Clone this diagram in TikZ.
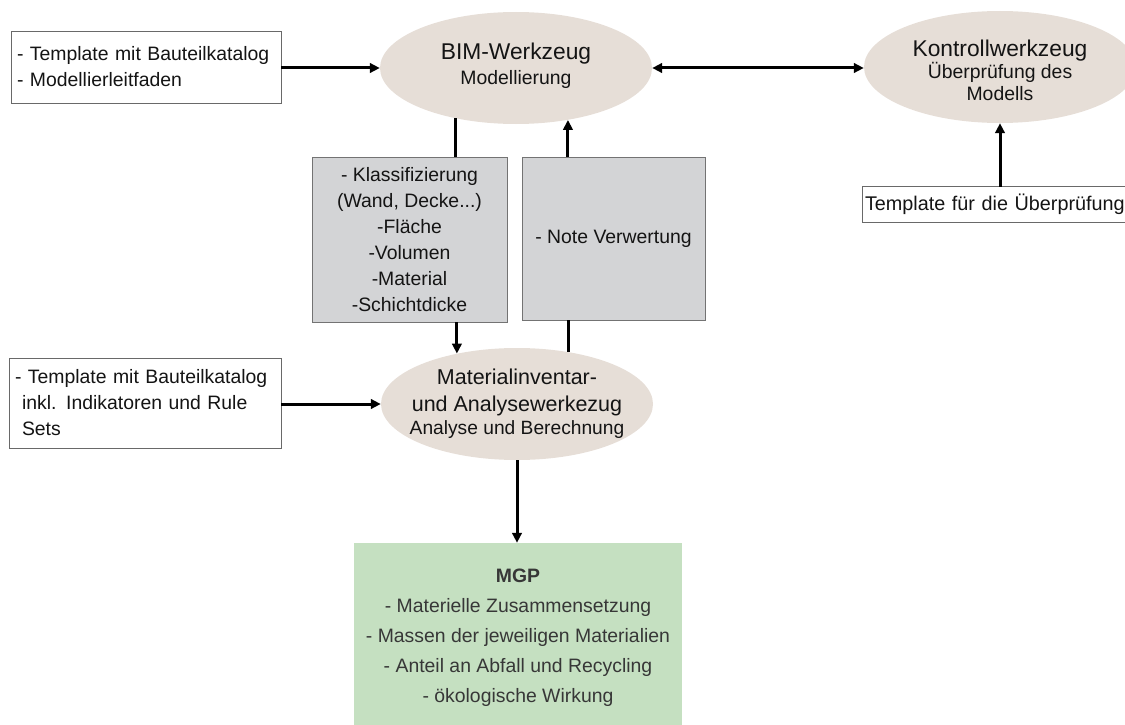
\documentclass[tikz,border=0pt]{standalone}
\usepackage{fontspec}
\setmainfont{Liberation Sans}
\usetikzlibrary{arrows.meta,shapes.geometric}

\definecolor{ellfill}{RGB}{230,222,215}
\definecolor{grayfill}{RGB}{211,212,214}
\definecolor{grayline}{RGB}{115,115,115}
\definecolor{boxline}{RGB}{105,105,105}
\definecolor{mgpfill}{RGB}{197,224,193}
\definecolor{mgptext}{RGB}{55,55,55}
\definecolor{txt}{RGB}{20,20,20}

\newcommand{\bodyfont}{\fontsize{19.4}{26}\selectfont}
\newcommand{\titlefont}{\fontsize{22.8}{26}\selectfont}

\begin{document}
\begin{tikzpicture}[x=1pt,y=-1pt,
  tool/.style={ellipse, fill=ellfill, draw=none, inner sep=0pt,
               minimum width=272pt, minimum height=112pt},
  tooltext/.style={align=center, text=txt, inner sep=0pt, font=\bodyfont},
  inbox/.style={draw=boxline, line width=0.8pt, fill=white, inner ysep=0pt,
               inner xsep=6pt, align=left, text=txt, font=\bodyfont},
  attrbox/.style={draw=grayline, line width=0.8pt, fill=grayfill, inner sep=0pt,
               align=center, text=txt, font=\bodyfont},
  resultbox/.style={draw=none, fill=mgpfill, inner sep=0pt, align=center,
               text=mgptext, font=\fontsize{19.4}{30}\selectfont},
  conn/.style={line width=3pt, draw=black, -{Triangle[length=10pt,width=9.5pt]}},
  bothconn/.style={line width=3pt, draw=black,
               {Triangle[length=10pt,width=9.5pt]}-{Triangle[length=10pt,width=9.5pt]}},
  plain/.style={line width=3pt, draw=black}]
\useasboundingbox (0,0) rectangle (1125,725);

% tools
\node[tool] (bim) at (516,68) {};
\node[tooltext, yshift=2.5pt] (bimt) at (bim.center)
  {{\titlefont BIM-Werkzeug}\\[-1pt]Modellierung};

\node[tool] (kon) at (1000,67) {};
\node[tooltext, yshift=-3pt, font=\fontsize{19.4}{21.5}\selectfont] (kont) at (kon.center)
  {{\titlefont Kontrollwerkzeug}\\[1pt]Überprüfung des\\Modells};

\node[tool] (mat) at (517,404) {};
\node[tooltext, font=\fontsize{21.5}{27}\selectfont] (matt) at (mat.center)
  {Materialinventar-\\und Analysewerkezug\\[-4pt]{\fontsize{19.2}{24}\selectfont Analyse und Berechnung}};

% input templates
\node[inbox, text width=258pt, minimum height=72pt] (tmod) at (146,67)
  {- Template mit Bauteilkatalog\\- Modellierleitfaden};
\node[inbox, text width=260pt, minimum height=90pt] (tana) at (145,403)
  {- Template mit Bauteilkatalog\\\hspace*{7pt}inkl. Indikatoren und Rule\\\hspace*{7pt}Sets};
% this box runs past the right margin, so only three of its sides are drawn
\node[inbox, draw=none, inner xsep=2pt, text width=310pt, minimum height=35pt,
      font=\fontsize{19.8}{26}\selectfont] (tkon) at (1020,204.5)
  {Template für die Überprüfung};
\draw[boxline, line width=0.8pt] (tkon.north east) -- (tkon.north west)
  -- (tkon.south west) -- (tkon.south east);

% exchanged data
\node[attrbox, minimum width=195pt, minimum height=165pt] (attr) at (409.5,239.5)
  {- Klassifizierung\\(Wand, Decke...)\\-Fläche\\-Volumen\\-Material\\-Schichtdicke};
\node[attrbox, minimum width=183pt, minimum height=163pt] (note) at (613.5,238.5)
  {- Note Verwertung};

% result
\node[resultbox, minimum width=328pt, minimum height=189pt] (mgp) at (518,637.5)
  {\textbf{MGP}\\- Materielle Zusammensetzung\\- Massen der jeweiligen Materialien\\- Anteil an Abfall und Recycling\\- ökologische Wirkung};

% connectors
\draw[conn] (tmod.east |- bim.west) -- (bim.west);
\draw[bothconn] (bim.east) -- (kon.west |- bim.east);
\draw[conn] (tkon.north -| kon.south) -- (kon.south);
\draw[plain] (bim.220) -- (attr.north -| bim.220);
\draw[conn] (note.north -| bim.-45) -- (bim.-45);
\draw[conn] (attr.south -| mat.140.7) -- (mat.140.7);
\draw[plain] (note.south -| mat.45.5) -- (mat.45.5);
\draw[conn] (tana.east |- mat.west) -- (mat.west);
\draw[conn] (mat.south) -- (mgp.north -| mat.south);
\end{tikzpicture}
\end{document}
